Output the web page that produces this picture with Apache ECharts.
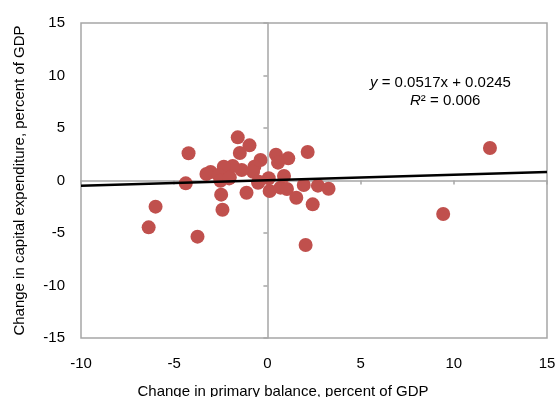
<!DOCTYPE html>
<html>
<head>
<meta charset="utf-8">
<script src="https://cdn.jsdelivr.net/npm/echarts@6/dist/echarts.min.js"></script>
<style>
  html, body { margin: 0; padding: 0; background: #fff; }
  #chart { width: 555px; height: 397px; }
</style>
</head>
<body>
<div id="chart"></div>
<script>
// Change in primary balance (x) vs change in capital expenditure (y), percent of GDP
const balanceChange = [
  -1.59, -0.96, -4.23, -1.48, 0.46, 2.16, 1.12, 0.57, -0.37, -0.70,
  -0.77, -1.38, -1.86, -2.34, -3.05, -3.27, -2.61, -2.02, -2.52, -4.38,
  0.07, 0.89, -0.50, 0.12, 0.70, 1.05, 1.95, 2.71, 3.28, 1.55,
  2.43, -1.12, -2.48, -2.41, -6.00, -6.37, -3.75, 2.05, 11.94, 9.43,
  -2.05, -0.47
];
const capexChange = [
  4.11, 3.35, 2.59, 2.62, 2.46, 2.71, 2.11, 1.70, 1.95, 1.32,
  0.84, 1.00, 1.38, 1.32, 0.81, 0.62, 0.52, 0.30, -0.02, -0.27,
  0.21, 0.43, -0.21, -1.00, -0.68, -0.81, -0.43, -0.49, -0.78, -1.64,
  -2.27, -1.16, -1.35, -2.78, -2.49, -4.46, -5.35, -6.14, 3.10, -3.19,
  0.20, -0.11
];

// Linear fit reported on the chart
const slope = 0.0517;
const intercept = 0.0245;
const rSquared = 0.006;

const xTicks = { min: -10, max: 15, step: 5 };
const yTicks = { min: -15, max: 15, step: 5 };

const points = balanceChange.map((x, i) => [x, capexChange[i]]);
const fitLine = [xTicks.min, xTicks.max].map(x => [x, slope * x + intercept]);

const font = 'Liberation Sans, Arial, sans-serif';
const gray = '#a6a6a6';

const chart = echarts.init(document.getElementById('chart'), null, { renderer: 'canvas' });

chart.setOption({
  animation: false,
  backgroundColor: '#fff',
  grid: {
    left: 81, right: 8, top: 23, bottom: 59,
    outerBoundsMode: 'none',
    containLabel: false,
    show: true, borderColor: gray, borderWidth: 1.5, backgroundColor: 'transparent'
  },
  xAxis: [
    {
      type: 'value', min: xTicks.min, max: xTicks.max, interval: xTicks.step,
      position: 'bottom',
      axisLine: { show: false, onZero: false },
      axisTick: { show: false },
      splitLine: { show: false },
      axisLabel: { color: '#000', fontSize: 15, fontFamily: font, margin: 18 },
      name: 'Change in primary balance, percent of GDP',
      nameLocation: 'middle', nameGap: 46,
      nameTextStyle: { color: '#000', fontSize: 15, fontFamily: font, padding: [0, 62, 0, 0] }
    },
    {
      type: 'value', min: xTicks.min, max: xTicks.max, interval: xTicks.step,
      position: 'bottom',
      axisLine: { show: true, onZero: true, onZeroAxisIndex: 0, lineStyle: { color: gray, width: 1.5 } },
      axisTick: { show: true, length: 4, lineStyle: { color: gray, width: 1.5 } },
      splitLine: { show: false },
      axisLabel: { show: false }
    }
  ],
  yAxis: [
    {
      type: 'value', min: yTicks.min, max: yTicks.max, interval: yTicks.step,
      position: 'left',
      axisLine: { show: false, onZero: false },
      axisTick: { show: false },
      splitLine: { show: false },
      axisLabel: { color: '#000', fontSize: 15, fontFamily: font, margin: 16 },
      name: 'Change in capital expenditure, percent of GDP',
      nameLocation: 'middle', nameGap: 54,
      nameTextStyle: { color: '#000', fontSize: 15, fontFamily: font }
    },
    {
      type: 'value', min: yTicks.min, max: yTicks.max, interval: yTicks.step,
      position: 'left',
      axisLine: { show: true, onZero: true, onZeroAxisIndex: 0, lineStyle: { color: gray, width: 1.5 } },
      axisTick: { show: true, length: 4, lineStyle: { color: gray, width: 1.5 } },
      splitLine: { show: false },
      axisLabel: { show: false }
    }
  ],
  series: [
    {
      type: 'scatter',
      xAxisIndex: 0, yAxisIndex: 0,
      data: points,
      symbol: 'circle',
      symbolSize: 14,
      itemStyle: { color: '#c0504d', opacity: 1 },
      z: 2
    },
    {
      type: 'line',
      xAxisIndex: 0, yAxisIndex: 0,
      data: fitLine,
      symbol: 'none',
      lineStyle: { color: '#000', width: 2.5 },
      z: 3
    }
  ],
  graphic: [
    {
      type: 'text', left: 370, top: 75,
      style: {
        text: '{i|y} = ' + slope + 'x + ' + intercept,
        fill: '#000', fontSize: 15, fontFamily: font,
        rich: { i: { fontStyle: 'italic', fontSize: 15, fontFamily: font, fill: '#000' } }
      }
    },
    {
      type: 'text', left: 410, top: 93,
      style: {
        text: '{i|R}² = ' + rSquared.toFixed(3),
        fill: '#000', fontSize: 15, fontFamily: font,
        rich: { i: { fontStyle: 'italic', fontSize: 15, fontFamily: font, fill: '#000' } }
      }
    }
  ]
});
</script>
</body>
</html>
